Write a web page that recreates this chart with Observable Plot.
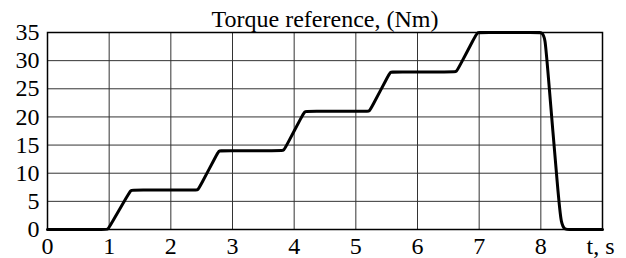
<!DOCTYPE html>
<html><head><meta charset="utf-8">
<script src="https://cdn.jsdelivr.net/npm/d3@7"></script>
<script src="https://cdn.jsdelivr.net/npm/@observablehq/plot@0.6"></script>
<style>html,body{margin:0;padding:0;background:#fff} svg{display:block} svg text{font-family:"Liberation Serif",serif !important}</style>
</head><body><div id="chart"></div>
<script>
const title = "Torque reference, (Nm)";
const xLabel = "t, s";
const xTicks = [0, 1, 2, 3, 4, 5, 6, 7, 8];
const yTicks = [0, 5, 10, 15, 20, 25, 30, 35];
const time = [0, 0.94, 0.98, 1.02, 1.31, 1.35, 1.39,
              2.40, 2.44, 2.48, 2.74, 2.78, 2.82,
              3.79, 3.83, 3.87, 4.13, 4.17, 4.21,
              5.18, 5.22, 5.26, 5.52, 5.56, 5.60,
              6.59, 6.63, 6.67, 6.93, 6.97, 7.01,
              7.98, 8.02, 8.07, 8.10, 8.29, 8.33, 8.39, 8.43, 9];
const torque = [0, 0, 0, 0.75, 6.25, 7, 7,
                7, 7, 7.8, 13.2, 14, 14,
                14, 14, 14.8, 20.2, 21, 21,
                21, 21, 21.8, 27.2, 28, 28,
                28, 28, 28.8, 34.2, 35, 35,
                35, 35, 34, 30, 5, 1, 0, 0, 0];
const data = time.map((t, i) => ({t, v: torque[i]}));
const font = "Liberation Serif";
const fs = 24;
const chart = Plot.plot({
  width: 626, height: 258,
  marginLeft: 47, marginRight: 24, marginTop: 32, marginBottom: 29,
  style: {fontFamily: font, fontSize: fs + "px", background: "#fff", color: "#000", overflow: "visible"},
  x: {domain: [0, 9]},
  y: {domain: [0, 35]},
  marks: [
    Plot.gridX(xTicks.slice(1), {stroke: "#333", strokeOpacity: 1, strokeWidth: 1}),
    Plot.gridY(yTicks.slice(1), {stroke: "#333", strokeOpacity: 1, strokeWidth: 1}),
    Plot.frame({stroke: "#000", strokeWidth: 1.5}),
    Plot.axisX(xTicks, {tickSize: 0, tickPadding: 7, label: null, fontSize: fs, fontFamily: font}),
    Plot.axisY(yTicks, {tickSize: 0, tickPadding: 8, label: null, fontSize: fs, fontFamily: font}),
    Plot.lineY(data, {x: "t", y: "v", stroke: "#000", strokeWidth: 3, curve: "basis"}),
    Plot.text([xLabel], {x: () => 9, frameAnchor: "bottom", lineAnchor: "top", dy: 7, dx: -2, fontSize: fs, fontFamily: font}),
    Plot.text([title], {frameAnchor: "top", lineAnchor: "bottom", dy: -6, fontSize: fs, fontFamily: font})
  ]
});
document.getElementById("chart").append(chart);
</script>
</body></html>
